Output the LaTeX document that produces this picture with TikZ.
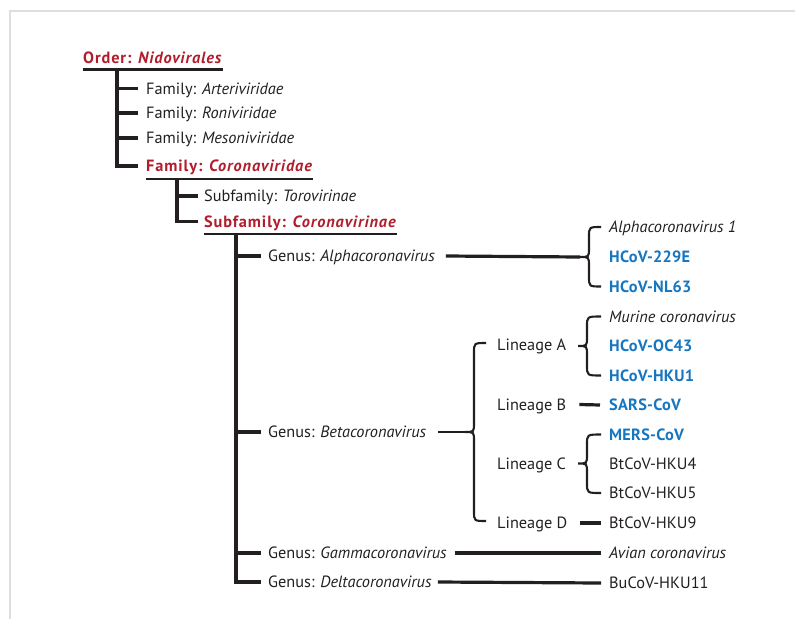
\documentclass[tikz,border=0pt]{standalone}
\usepackage{fontspec}
\setmainfont{PT Sans}
\usetikzlibrary{calc}
\definecolor{redt}{RGB}{176,30,45}
\definecolor{bluet}{RGB}{22,118,192}
\definecolor{ink}{RGB}{35,31,32}
\definecolor{framec}{RGB}{222,222,222}
\newcommand{\mybrace}[3]{%
  \draw[brc] let \p1=(#1), \p2=(#2), \p3=(#3) in
    (\x1,\y1) .. controls (\x3+9pt,\y1) .. (\x3+9pt,\y1-10pt)
    -- (\x3+9pt,\y3+9pt) .. controls (\x3+9pt,\y3) .. (\x3,\y3)
    .. controls (\x3+9pt,\y3) .. (\x3+9pt,\y3-9pt)
    -- (\x3+9pt,\y2+10pt) .. controls (\x3+9pt,\y2) .. (\x2,\y2);}
\begin{document}
\begin{tikzpicture}[x=1pt,y=-1pt,
  lbl/.style={anchor=west, inner sep=0pt, text height=11.4pt, text depth=0pt,
    font=\fontsize{16.3}{19}\selectfont, text=ink},
  hl/.style={lbl, font=\fontsize{16.3}{19}\selectfont\bfseries\addfontfeature{LetterSpace=5.5}, text=redt},
  sp/.style={lbl, font=\fontsize{16.3}{19}\selectfont\bfseries\addfontfeature{LetterSpace=1.5}, text=bluet},
  tree/.style={line width=3.2pt, draw=ink},
  uline/.style={line width=2.8pt, draw=ink},
  brc/.style={line width=2.1pt, draw=ink},
  conn/.style={line width=3.2pt, draw=ink}
]
\useasboundingbox (0,0) rectangle (795,619);
\draw[framec, line width=2pt] (10,619) -- (10,11) -- (795,11);

% order and families
\node[hl] (order) at (83,57.4) {Order: \textit{Nidovirales}};
\draw[uline] ($(order.south west)+(0,6)$) -- ($(order.south east)+(0,6)$);
\node[lbl] (fa) at (146,88.5) {Family: \textit{Arteriviridae}};
\node[lbl] (fr) at (146,113) {Family: \textit{Roniviridae}};
\node[lbl] (fm) at (146,138) {Family: \textit{Mesoniviridae}};
\node[hl] (fc) at (146,166) {Family: \textit{Coronaviridae}};
\draw[uline] ($(fc.south west)+(0,7)$) -- ($(fc.south east)+(0,7)$);
\coordinate (o) at (117,68);
\draw[tree] (o) |- ([xshift=-8pt]fc.west);
\draw[tree] (o |- fa.west) -- ([xshift=-8pt]fa.west);
\draw[tree] (o |- fr.west) -- ([xshift=-8pt]fr.west);
\draw[tree] (o |- fm.west) -- ([xshift=-8pt]fm.west);

% subfamilies
\node[lbl] (st) at (204,196) {Subfamily: \textit{Torovirinae}};
\node[hl] (sc) at (204,221.5) {Subfamily: \textit{Coronavirinae}};
\draw[uline] ($(sc.south west)+(0,6.5)$) -- ($(sc.south east)+(0,6.5)$);
\coordinate (f) at (177,178.5);
\draw[tree] (f) |- ([xshift=-6pt]sc.west);
\draw[tree] (f |- st.west) -- ([xshift=-6pt]st.west);

% genera
\node[lbl] (ga) at (268,256) {Genus: \textit{Alphacoronavirus}};
\node[lbl] (gb) at (268,432) {Genus: \textit{Betacoronavirus}};
\node[lbl] (gg) at (268,553) {Genus: \textit{Gammacoronavirus}};
\node[lbl] (gd) at (268,582) {Genus: \textit{Deltacoronavirus}};
\coordinate (s) at (236,234);
\draw[tree] (s) |- ([xshift=-7pt]gd.west);
\draw[tree] (s |- ga.west) -- ([xshift=-7pt]ga.west);
\draw[tree] (s |- gb.west) -- ([xshift=-7pt]gb.west);
\draw[tree] (s |- gg.west) -- ([xshift=-7pt]gg.west);

% lineages
\node[lbl] (la) at (497,345) {Lineage A};
\node[lbl] (lb) at (497,404.5) {Lineage B};
\node[lbl] (lc) at (497,463.5) {Lineage C};
\node[lbl] (ld) at (497,523) {Lineage D};

% species
\node[lbl] (a1) at (609,227) {\textit{Alphacoronavirus 1}};
\node[sp] (a2) at (609,257) {HCoV-229E};
\node[sp] (a3) at (609,286.5) {HCoV-NL63};
\node[lbl] (b1) at (609,316.5) {\textit{Murine coronavirus}};
\node[sp] (b2) at (609,346) {HCoV-OC43};
\node[sp] (b3) at (609,375.5) {HCoV-HKU1};
\node[sp] (b4) at (609,405) {SARS-CoV};
\node[sp] (c1) at (609,434.5) {MERS-CoV};
\node[lbl] (c2) at (609,464) {BtCoV-HKU4};
\node[lbl] (c3) at (609,493) {BtCoV-HKU5};
\node[lbl] (d1) at (609,523) {BtCoV-HKU9};
\node[lbl] (g1) at (609,553) {\textit{Avian coronavirus}};
\node[lbl] (e1) at (609,583) {BuCoV-HKU11};

% brace tips
\coordinate (atip) at (580,257);
\coordinate (btip) at (465,432);
\coordinate (latip) at (578,346);
\coordinate (lctip) at (578,463.5);

% connectors
\draw[conn] ([xshift=11pt]ga.east) -- (atip);
\mybrace{[xshift=-8pt]a1.west}{[xshift=-8pt]a3.west}{atip}
\draw[brc] ([xshift=12pt]gb.east) -- (btip);
\mybrace{[xshift=-11pt,yshift=2pt]la.west}{[xshift=-11pt,yshift=2pt]ld.west}{btip}
\mybrace{[xshift=-8pt]b1.west}{[xshift=-8pt]b3.west}{latip}
\mybrace{[xshift=-8pt]c1.west}{[xshift=-8pt]c3.west}{lctip}
\draw[conn] ([xshift=13pt]lb.east) -- ([xshift=-9pt]b4.west);
\draw[conn] ([xshift=12pt]ld.east) -- ([xshift=-8pt]d1.west);
\draw[conn] ([xshift=8pt]gg.east) -- ([xshift=-8pt]g1.west);
\draw[conn] ([xshift=6pt]gd.east) -- ([xshift=-8pt]e1.west);
\end{tikzpicture}
\end{document}
